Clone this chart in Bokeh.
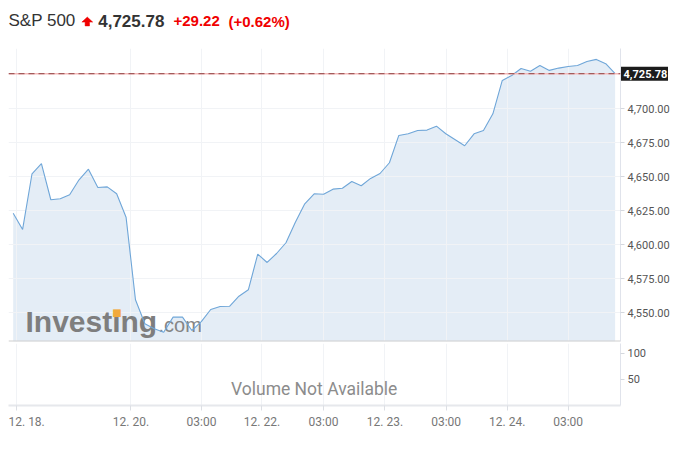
from bokeh.plotting import figure
from bokeh.layouts import column
from bokeh.models import (Range1d, FixedTicker, NumeralTickFormatter, Span, Label,
                          ColumnDataSource)
from bokeh.core.properties import value
from bokeh.embed import file_html
from bokeh.resources import INLINE

# ---------------- data ----------------
symbol = "S&P 500"
last_price = 4725.78
last_price_text = "4,725.78"
change_text = "+29.22"
change_pct_text = "(+0.62%)"

prices = [
    4623.2, 4611.3, 4652.2, 4659.6, 4633.1, 4633.8, 4636.8, 4647.8, 4655.6, 4642.1,
    4642.6, 4637.5, 4620.3, 4559.6, 4541.9, 4538.2, 4535.7, 4546.8, 4546.8, 4537.0,
    4543.5, 4552.4, 4554.6, 4554.8, 4562.2, 4566.9, 4593.1, 4587.0, 4593.6, 4601.5,
    4616.6, 4630.1, 4637.5, 4637.2, 4640.9, 4641.6, 4646.5, 4643.4, 4648.8, 4652.4,
    4660.3, 4680.4, 4681.6, 4684.0, 4684.3, 4687.2, 4681.6, 4677.2, 4672.8, 4681.6,
    4684.0, 4696.3, 4720.8, 4724.5, 4729.6, 4727.6, 4731.8, 4728.2, 4729.9, 4731.1,
    4731.8, 4734.8, 4736.3, 4733.1, 4725.78,
]
time_index = list(range(len(prices)))

tick_positions = [0.4, 12.52, 20.02, 26.45, 32.99, 39.53, 46.03, 52.52, 59.0]
tick_labels = ["12. 18.", "12. 20.", "03:00", "12. 22.", "03:00",
               "12. 23.", "03:00", "12. 24.", "03:00"]
price_ticks = [4550, 4575, 4600, 4625, 4650, 4675, 4700]
volume_ticks = [50, 100]
volume_note = "Volume Not Available"

# ---------------- styles ----------------
FRAME_W = 612
RIGHT_W = 54
LINE_COLOR = "#6fa6d8"
FILL_COLOR = "#e4edf6"
GRID_COLOR = "#f1f3f6"
AXIS_COLOR = "#e0e3eb"
LABEL_COLOR = "#555555"
RED = "#f00000"

X_START, X_END = -0.5, 64.57
x_range = Range1d(X_START, X_END)
px_per_unit = FRAME_W / (X_END - X_START)

# ---------------- header ----------------
h = figure(frame_width=FRAME_W, frame_height=40, x_range=Range1d(0, FRAME_W),
           y_range=Range1d(40, 0), toolbar_location=None, output_backend="svg",
           x_axis_location=None, y_axis_location=None,
           min_border_left=0, min_border_right=RIGHT_W, min_border_top=0,
           min_border_bottom=0)
h.grid.visible = False
h.outline_line_color = None
h.text(x=[0], y=[12.1], text=[symbol], text_font=value("Liberation Sans"),
       text_font_size="17px", text_color="#333333", text_baseline="middle")
h.patch(x=[78.8, 84.2, 81.0, 81.0, 76.6, 76.6, 73.4],
        y=[8.6, 13.6, 13.6, 17.4, 17.4, 13.6, 13.6], color=RED, line_width=0.5)
h.text(x=[89.7], y=[12.1], text=[last_price_text], text_font=value("Liberation Sans"),
       text_font_size="17px", text_font_style="bold", text_color="#333333",
       text_baseline="middle")
h.text(x=[165], y=[12.8], text=[change_text], text_font=value("Liberation Sans"),
       text_font_size="15px", text_font_style="bold", text_color=RED,
       text_baseline="middle")
h.text(x=[220], y=[12.8], text=[change_pct_text], text_font=value("Liberation Sans"),
       text_font_size="15px", text_font_style="bold", text_color=RED,
       text_baseline="middle")

# ---------------- price panel ----------------
src = ColumnDataSource(dict(x=time_index, price=prices))
p = figure(frame_width=FRAME_W, frame_height=293, x_range=x_range,
           y_range=Range1d(4528.9, 4744.3), y_axis_location="right",
           x_axis_location=None, toolbar_location=None, output_backend="svg",
           min_border_left=0, min_border_right=RIGHT_W, min_border_top=0,
           min_border_bottom=2)
p.outline_line_color = None
p.xgrid.ticker = FixedTicker(ticks=tick_positions)
p.ygrid.ticker = FixedTicker(ticks=price_ticks)
p.xgrid.grid_line_color = GRID_COLOR
p.ygrid.grid_line_color = GRID_COLOR

p.varea(x="x", y1=p.y_range.start, y2="price", source=src, fill_color=FILL_COLOR,
        level="image")

wm = Label(x=17, y=19.7, x_units="screen", y_units="screen", text="Investing",
           text_font="Liberation Sans", text_font_style="bold", text_font_size="30px",
           text_color="#7e7e7e", text_baseline="middle", level="underlay")
p.add_layout(wm)
wm2 = Label(x=150, y=16.2, x_units="screen", y_units="screen", text=".com",
            text_font="Liberation Sans", text_font_size="20px",
            text_color="#858585", text_baseline="middle", level="underlay")
p.add_layout(wm2)
dot = Label(x=108.5, y=29.3, x_units="screen", y_units="screen", text="■",
            text_font="DejaVu Sans", text_font_size="10px", text_color="#f2aa3c",
            text_align="center", text_baseline="middle", level="underlay")
p.add_layout(dot)

p.line(x="x", y="price", source=src, line_color=LINE_COLOR, line_width=1.1)

p.add_layout(Span(location=last_price, dimension="width", line_color="#f6b9b9",
                  line_width=1.5))
p.add_layout(Span(location=last_price, dimension="width", line_color="#8e4646",
                  line_width=1, line_dash="6 4"))
p.add_layout(Span(location=p.y_range.start, dimension="width", line_color="#cfcfcf",
                  line_width=2))

ay = p.yaxis[0]
ay.ticker = FixedTicker(ticks=price_ticks)
ay.formatter = NumeralTickFormatter(format="0,0.00")
ay.axis_line_color = AXIS_COLOR
ay.major_tick_line_color = "#d5d8de"
ay.major_tick_out = 4
ay.major_tick_in = 0
ay.minor_tick_line_color = None
ay.major_label_text_font = "Roboto"
ay.major_label_text_font_size = "11px"
ay.major_label_text_color = LABEL_COLOR
ay.major_label_standoff = 3

# price tag in the axis margin (overlay level glyphs are not clipped to the frame)
tag_src = ColumnDataSource(dict(x=[X_END], xc=[X_END + 24 / px_per_unit],
                                y=[last_price], text=[last_price_text]))
p.rect(x="xc", y="y", width=47, height=14, width_units="screen",
       height_units="screen", source=tag_src, fill_color="#1c1c1c",
       line_color=None, level="overlay")
p.text(x="x", y="y", text="text", source=tag_src, x_offset=3,
       text_font=value("Roboto"), text_font_style="bold", text_font_size="11px",
       text_color="white", text_align="left", text_baseline="middle",
       level="overlay")

# ---------------- volume panel ----------------
v = figure(frame_width=FRAME_W, frame_height=62, x_range=x_range,
           y_range=Range1d(0, 119.2), y_axis_location="right",
           x_axis_location="below", toolbar_location=None, output_backend="svg",
           min_border_left=0, min_border_right=RIGHT_W, min_border_top=0,
           min_border_bottom=0)
v.outline_line_color = None
v.xgrid.ticker = FixedTicker(ticks=tick_positions)
v.xgrid.grid_line_color = GRID_COLOR
v.ygrid.grid_line_color = None

vy = v.yaxis[0]
vy.ticker = FixedTicker(ticks=volume_ticks)
vy.axis_line_color = AXIS_COLOR
vy.major_tick_line_color = "#d5d8de"
vy.major_tick_out = 4
vy.major_tick_in = 0
vy.minor_tick_line_color = None
vy.major_label_text_font = "Roboto"
vy.major_label_text_font_size = "11px"
vy.major_label_text_color = LABEL_COLOR
vy.major_label_standoff = 3

vx = v.xaxis[0]
vx.ticker = FixedTicker(ticks=tick_positions)
vx.major_label_overrides = {pos: lab for pos, lab in zip(tick_positions, tick_labels)}
vx.axis_line_color = "#e6e8ec"
vx.axis_line_width = 2
vx.major_tick_line_color = "#dcdfe4"
vx.major_tick_out = 5
vx.major_tick_in = 0
vx.minor_tick_line_color = None
vx.major_label_text_font = "Roboto"
vx.major_label_text_font_size = "12px"
vx.major_label_text_color = "#777777"
vx.major_label_standoff = 4

note = Label(x=305.7, y=17, x_units="screen", y_units="screen", text=volume_note,
             text_font="Roboto", text_font_size="17.5px", text_color="#8c8c8c",
             text_align="center", text_baseline="middle")
v.add_layout(note)

layout = column(h, p, v, spacing=0, margin=(8, 0, 0, 8))
open("out.html", "w").write(file_html(layout, INLINE))
